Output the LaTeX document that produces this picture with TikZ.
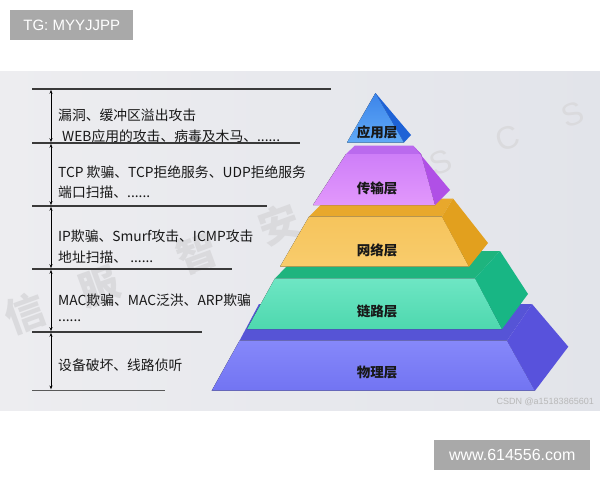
\documentclass[tikz,border=0pt]{standalone}
\usepackage{fontspec}
\setmainfont{Noto Sans CJK SC}
\newfontfamily\tagfont{Liberation Sans}
\usetikzlibrary{arrows.meta}

\definecolor{bgleft}{HTML}{EDEDF0}
\definecolor{bgright}{HTML}{E2E4EA}
\definecolor{tagcol}{HTML}{A9A9A9}
\definecolor{textdark}{HTML}{181818}
\definecolor{linegray}{HTML}{3A3A3A}
\definecolor{wmgray}{HTML}{DADADD}

\tikzset{
  sepline/.style={draw=linegray,line width=1.2pt},
  spanarrow/.style={{Stealth[length=4pt,width=3pt]}-{Stealth[length=4pt,width=3pt]},line width=0.7pt,black},
  attack/.style={anchor=west,inner sep=0pt,text=textdark,font=\fontsize{13.8}{16}\selectfont},
  layername/.style={inner sep=0pt,text=textdark,font=\bfseries\fontsize{13.5}{16}\selectfont},
  tagbox/.style={fill=tagcol,text=white,anchor=north west,inner sep=0pt,font=\tagfont\fontsize{15}{18}\selectfont},
  watermark/.style={text=wmgray,rotate=20,font=\bfseries\fontsize{40}{40}\selectfont}
}

\begin{document}
\begin{tikzpicture}[x=1pt,y=-1pt]
  % Canvas and grey panel
  \useasboundingbox[fill=white] (0,0) rectangle (600,480);
  \fill[left color=bgleft,right color=bgright] (0,71) rectangle (600,410);

  % Watermark
  \node[watermark] (wm1) at (25,313) {信};
  \node[watermark] (wm2) at (99,287) {服};
  \node[watermark] (wm3) at (197,253) {智};
  \node[watermark] (wm4) at (279,224) {安};
  \node[watermark,font=\tagfont\fontsize{32}{32}\selectfont] (wm5) at (441,162) {S};
  \node[watermark,font=\tagfont\fontsize{32}{32}\selectfont] (wm6) at (508,138) {C};
  \node[watermark,font=\tagfont\fontsize{32}{32}\selectfont] (wm7) at (573,114) {S};

  % Tag boxes
  \node[tagbox,minimum width=123pt,minimum height=30pt] (tg) at (10,10) {TG: MYYJJPP};
  \node[tagbox,minimum width=156pt,minimum height=30pt,font=\tagfont\fontsize{16}{18}\selectfont] (web) at (434,440) {www.614556.com};
  \node[anchor=east,inner sep=0pt,text=black!28,font=\tagfont\fontsize{9}{10}\selectfont] (csdn) at (594,402) {CSDN @a15183865601};

  % Physical layer (bottom)
  \fill[color={rgb,255:red,86;green,84;blue,214}] (259,304) -- (532,304) -- (507,340.7) -- (239.5,340.7) -- cycle;
  \fill[top color={rgb,255:red,134;green,136;blue,250},bottom color={rgb,255:red,114;green,116;blue,242}]
        (239.5,340.7) -- (507,340.7) -- (535,390.7) -- (211.7,390.7) -- cycle;
  \fill[color={rgb,255:red,88;green,82;blue,220}] (532,304) -- (568.3,346.7) -- (535,390.7) -- (507,340.7) -- cycle;

  % Link layer
  \fill[color={rgb,255:red,30;green,180;blue,126}] (302,251) -- (500,251) -- (475,278.3) -- (275,278.3) -- cycle;
  \fill[top color={rgb,255:red,110;green,230;blue,196},bottom color={rgb,255:red,78;green,216;blue,174}]
        (275,278.3) -- (475,278.3) -- (502,329) -- (247,329) -- cycle;
  \fill[color={rgb,255:red,24;green,182;blue,132}] (500,251) -- (528,294) -- (502,329) -- (475,278.3) -- cycle;

  % Network layer
  \fill[color={rgb,255:red,232;green,168;blue,44}] (327,198.5) -- (453,198.5) -- (442,216.7) -- (309,216.7) -- cycle;
  \fill[top color={rgb,255:red,246;green,196;blue,92},bottom color={rgb,255:red,248;green,204;blue,108}]
        (309,216.7) -- (442,216.7) -- (469,266.7) -- (280,266.7) -- cycle;
  \fill[color={rgb,255:red,226;green,160;blue,30}] (453,198.5) -- (488,243) -- (469,266.7) -- (442,216.7) -- cycle;

  % Transport layer
  \fill[color={rgb,255:red,186;green,106;blue,238}] (355,145.5) -- (413,145.5) -- (421,154) -- (346,154) -- cycle;
  \fill[top color={rgb,255:red,206;green,126;blue,248},bottom color={rgb,255:red,226;green,152;blue,252}]
        (346,154) -- (421,154) -- (435,205) -- (313,205) -- cycle;
  \fill[color={rgb,255:red,176;green,80;blue,230}] (413,145.5) -- (450,190) -- (435,205) -- (421,154) -- cycle;

  % Application layer (apex)
  \fill[top color={rgb,255:red,60;green,132;blue,234},bottom color={rgb,255:red,96;green,170;blue,246}]
        (375.5,93) -- (404,142.5) -- (347,142.5) -- cycle;
  \fill[color={rgb,255:red,30;green,98;blue,214}] (375.5,93) -- (411,135) -- (404,142.5) -- cycle;

  % Layer names
  \node[layername] (app)   at (377,132) {应用层};
  \node[layername] (trans) at (377,188.5) {传输层};
  \node[layername] (net)   at (377,250.5) {网络层};
  \node[layername] (link)  at (377,311.5) {链路层};
  \node[layername] (phys)  at (377,372.5) {物理层};

  % Separator lines
  \draw[sepline] (32,89) -- (331,89);
  \draw[sepline] (32,143) -- (300,143);
  \draw[sepline] (32,206) -- (267,206);
  \draw[sepline] (32,269) -- (232,269);
  \draw[sepline] (32,332) -- (202,332);
  \draw[sepline,draw=black!65,line width=1.8pt] (32,390.5) -- (165,390.5);

  % Span arrows between the lines
  \coordinate (m0) at (51,89.8);
  \coordinate (m1) at (51,142.2);
  \coordinate (m2) at (51,143.8);
  \coordinate (m3) at (51,205.2);
  \coordinate (m4) at (51,206.8);
  \coordinate (m5) at (51,268.2);
  \coordinate (m6) at (51,269.8);
  \coordinate (m7) at (51,331.2);
  \coordinate (m8) at (51,332.8);
  \coordinate (m9) at (51,389.4);
  \draw[spanarrow] (m0) -- (m1);
  \draw[spanarrow] (m2) -- (m3);
  \draw[spanarrow] (m4) -- (m5);
  \draw[spanarrow] (m6) -- (m7);
  \draw[spanarrow] (m8) -- (m9);

  % Attacks per layer
  \node[attack] (a1) at (58,115) {漏洞、缓冲区溢出攻击};
  \node[attack] (a2) at (62,136) {WEB应用的攻击、病毒及木马、......};
  \node[attack] (b1) at (58,172) {TCP 欺骗、TCP拒绝服务、UDP拒绝服务};
  \node[attack] (b2) at (58,192) {端口扫描、......};
  \node[attack] (c1) at (58,236) {IP欺骗、Smurf攻击、ICMP攻击};
  \node[attack] (c2) at (58,257) {地址扫描、 ......};
  \node[attack] (d1) at (58,300) {MAC欺骗、MAC泛洪、ARP欺骗};
  \node[attack] (d2) at (58,321) {......};
  \node[attack] (e1) at (58,365) {设备破坏、线路侦听};
\end{tikzpicture}
\end{document}
